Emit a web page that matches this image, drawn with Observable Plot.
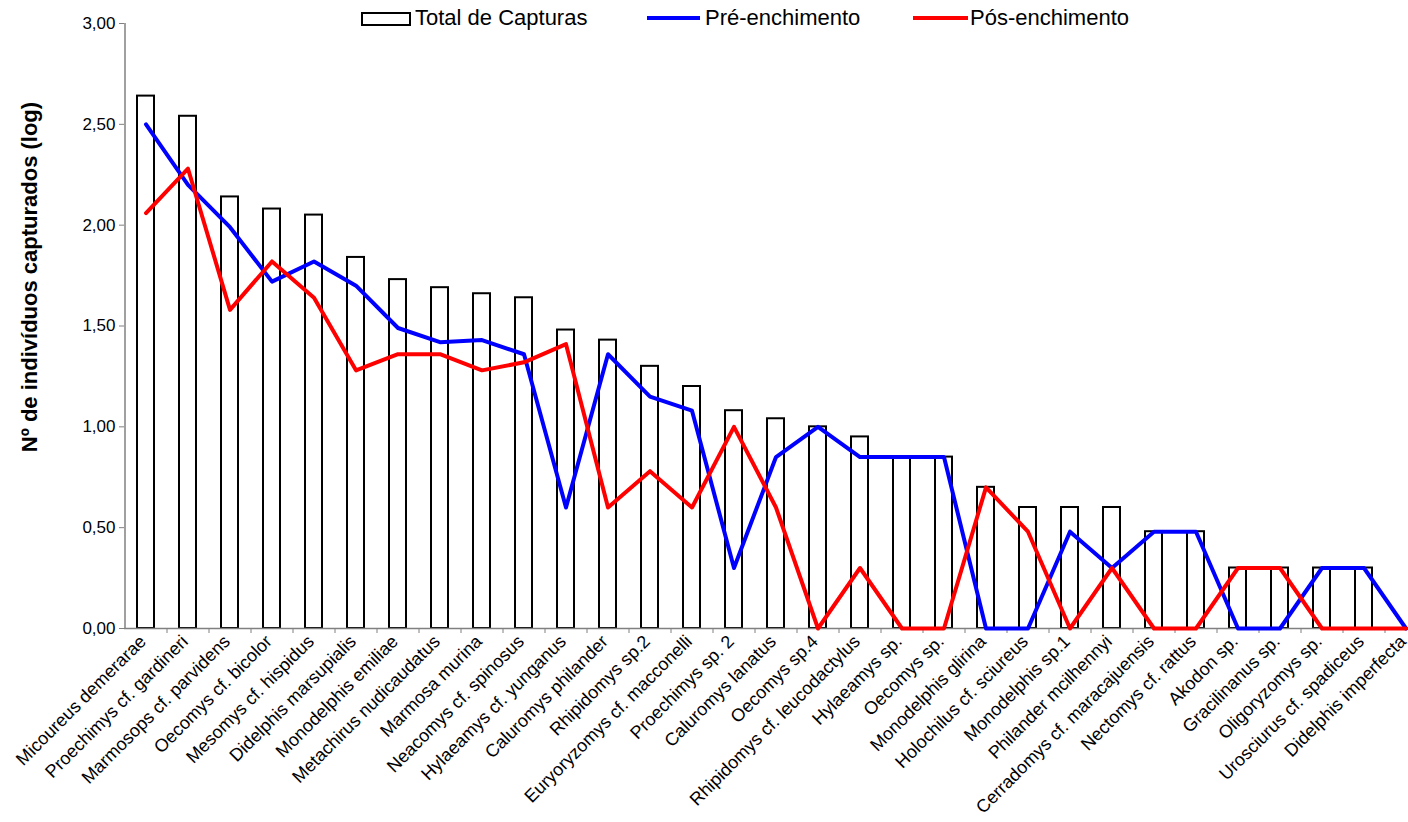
<!DOCTYPE html>
<html>
<head>
<meta charset="utf-8">
<script src="https://cdn.jsdelivr.net/npm/d3@7"></script>
<script src="https://cdn.jsdelivr.net/npm/@observablehq/plot@0.6"></script>
<style>
  html, body { margin: 0; padding: 0; background: #fff; overflow: hidden; }
  #wrap { position: relative; width: 1408px; height: 822px; font-family: "Liberation Sans", Arial, sans-serif; }
  #wrap svg { display: block; overflow: hidden; }
  #wrap svg g[aria-label="x-axis tick label"] text { font-size: 18px !important; }
  .leg { position: absolute; top: 6px; font-size: 22px; line-height: 24px; color: #000; white-space: nowrap; }
  .sw-box { position: absolute; top: 12px; width: 46px; height: 10px; border: 2px solid #000; background: #fff; }
  .sw-line { position: absolute; top: 16px; height: 4px; }
  #ytitle { position: absolute; left: 30px; top: 277px; transform: translate(-50%, -50%) rotate(-90deg);
            font-weight: bold; font-size: 22px; white-space: nowrap; color: #000; }
</style>
</head>
<body>
<div id="wrap">
  <div class="sw-box" style="left:361px"></div>
  <div class="leg" style="left:415px">Total de Capturas</div>
  <div class="sw-line" style="left:647px; width:53px; background:#0000ff"></div>
  <div class="leg" style="left:705px">Pré-enchimento</div>
  <div class="sw-line" style="left:913px; width:55px; background:#ff0000"></div>
  <div class="leg" style="left:970px">Pós-enchimento</div>
  <div id="ytitle">Nº de indivíduos capturados (log)</div>
</div>
<script>
const species = [
  "Micoureus demerarae", "Proechimys cf. gardineri", "Marmosops cf. parvidens", "Oecomys cf. bicolor",
  "Mesomys cf. hispidus", "Didelphis marsupialis", "Monodelphis emiliae", "Metachirus nudicaudatus",
  "Marmosa murina", "Neacomys cf. spinosus", "Hylaeamys cf. yunganus", "Caluromys philander",
  "Rhipidomys sp.2", "Euryoryzomys cf. macconelli", "Proechimys sp. 2", "Caluromys lanatus",
  "Oecomys sp.4", "Rhipidomys cf. leucodactylus", "Hylaeamys sp.", "Oecomys sp.",
  "Monodelphis glirina", "Holochilus cf. sciureus", "Monodelphis sp.1", "Philander mcilhennyi",
  "Cerradomys cf. maracajuensis", "Nectomys cf. rattus", "Akodon sp.", "Gracilinanus sp.",
  "Oligoryzomys sp.", "Urosciurus cf. spadiceus", "Didelphis imperfecta"
];
const totalCapturas = [
  2.64, 2.54, 2.14, 2.08, 2.05, 1.84, 1.73, 1.69, 1.66, 1.64, 1.48, 1.43,
  1.30, 1.20, 1.08, 1.04, 1.00, 0.95, 0.85, 0.85, 0.70, 0.60, 0.60, 0.60,
  0.48, 0.48, 0.30, 0.30, 0.30, 0.30, 0.00
];
const preEnchimento = [
  2.50, 2.20, 1.99, 1.72, 1.82, 1.70, 1.49, 1.42, 1.43, 1.36, 0.60, 1.36,
  1.15, 1.08, 0.30, 0.85, 1.00, 0.85, 0.85, 0.85, 0.00, 0.00, 0.48, 0.30,
  0.48, 0.48, 0.00, 0.00, 0.30, 0.30, 0.00
];
const posEnchimento = [
  2.06, 2.28, 1.58, 1.82, 1.64, 1.28, 1.36, 1.36, 1.28, 1.32, 1.41, 0.60,
  0.78, 0.60, 1.00, 0.60, 0.00, 0.30, 0.00, 0.00, 0.70, 0.48, 0.00, 0.30,
  0.00, 0.00, 0.30, 0.30, 0.00, 0.00, 0.00
];
const yTicks = [0, 0.5, 1, 1.5, 2, 2.5, 3];

const data = species.map((s, i) => ({
  species: s, total: totalCapturas[i], pre: preEnchimento[i], post: posEnchimento[i]
}));

const fmt = d => d3.format(".2f")(d).replace(".", ",");

const chart = Plot.plot({
  width: 1408,
  height: 822,
  marginTop: 23,
  marginBottom: 194,
  marginLeft: 124,
  marginRight: 0,
  style: {fontFamily: "'Liberation Sans', Arial, sans-serif", fontSize: "17px", color: "#000", background: "white"},
  x: {type: "band", domain: species, range: [124, 1426], paddingInner: 0.6, paddingOuter: 0.3, align: 0.5, label: null},
  y: {domain: [0, 3], range: [628, 23], label: null},
  marks: [
    Plot.barY(data, {x: "species", y: "total", fill: "white", stroke: "black", strokeWidth: 2}),
    Plot.ruleY([0], {stroke: "#808080", strokeWidth: 1.5}),
    Plot.ruleX([species[0]], {dx: -21, stroke: "#808080", strokeWidth: 1.5}),
    Plot.axisX({tickSize: 5, tickFormat: () => "", dx: 21, stroke: "#808080", label: null}),
    Plot.axisX({tickSize: 0, tickPadding: 10, tickRotate: -45, dx: -3, label: null}),
    Plot.axisY({ticks: yTicks, tickFormat: fmt, tickSize: 5, tickPadding: 4, fontSize: 17, stroke: "#808080", label: null}),
    Plot.line(data, {x: "species", y: "pre", stroke: "#0000ff", strokeWidth: 4, strokeLinejoin: "round"}),
    Plot.line(data, {x: "species", y: "post", stroke: "#ff0000", strokeWidth: 4, strokeLinejoin: "round"})
  ]
});
document.getElementById("wrap").prepend(chart);
</script>
</body>
</html>
